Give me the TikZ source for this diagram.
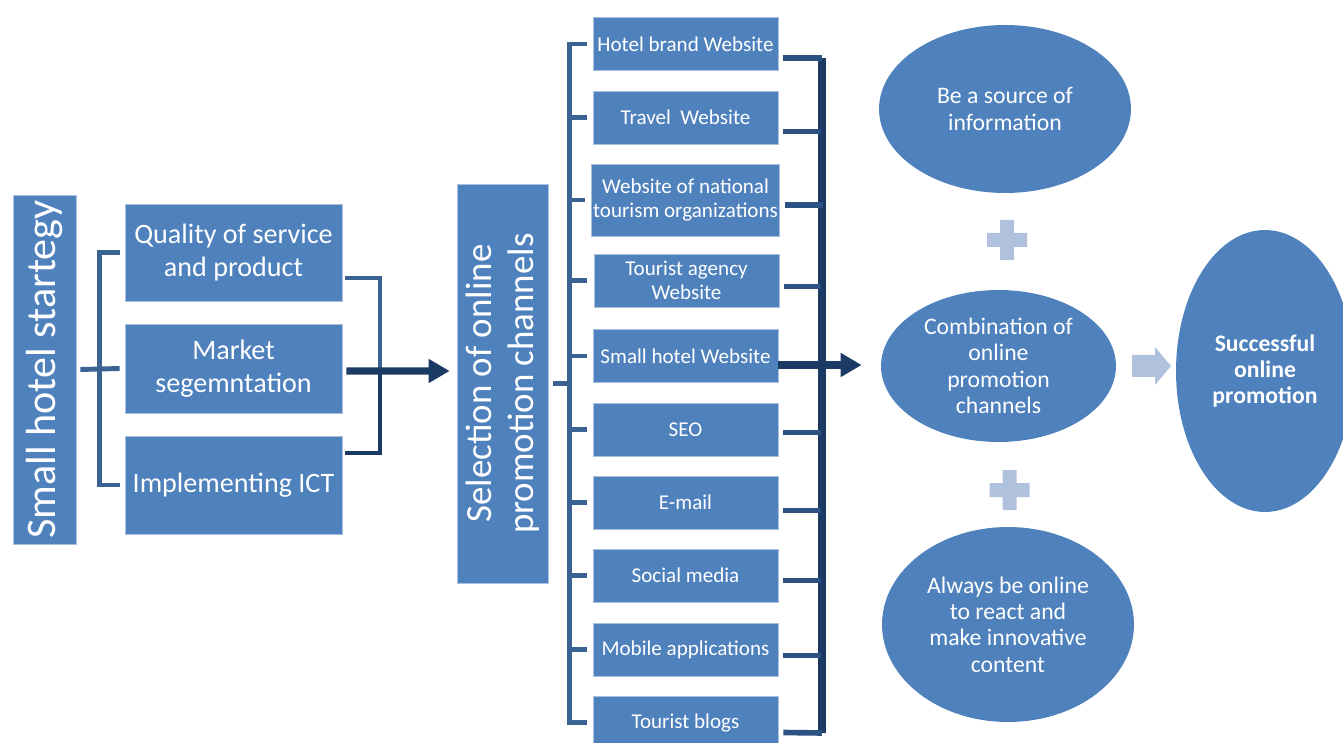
\documentclass[tikz,border=0pt]{standalone}
\usepackage{fontspec}
\setmainfont{Carlito}
\usetikzlibrary{arrows.meta, calc, shapes.geometric}

\definecolor{boxblue}{HTML}{4F81BD}
\definecolor{boxedge}{HTML}{A9C0DE}
\definecolor{linkblue}{HTML}{3A6393}
\definecolor{darklink}{HTML}{2C5283}
\definecolor{navy}{HTML}{1B3A64}
\definecolor{softblue}{HTML}{B0C1DD}

\begin{document}
\begin{tikzpicture}[x=0.02cm, y=-0.02cm,
    box/.style={rectangle, fill=boxblue, draw=boxedge, line width=0.4pt, text=white, align=center, inner sep=1pt},
    chan/.style={box, minimum width=3.7cm, minimum height=1.06cm, font=\fontsize{12}{13.5}\selectfont},
    factor/.style={box, minimum width=4.34cm, font=\fontsize{16}{18.5}\selectfont},
    goal/.style={ellipse, fill=boxblue, text=white, align=center, inner sep=0pt, font=\fontsize{13.5}{15}\selectfont},
    bracket/.style={draw=linkblue, line width=2.8pt},
    tick/.style={draw=darklink, line width=3.2pt},
    rail/.style={draw=navy, line width=4pt},
    heavy/.style={draw=navy, line width=4pt, -{Triangle[length=12pt, width=13pt]}}]
    \useasboundingbox (0,0) rectangle (1343,743);

    % strategy and its three pillars
    \node[box, rotate=90, minimum width=6.98cm, minimum height=1.26cm, font=\fontsize{24}{26}\selectfont] (strategy) at (44.5,369.5) {Small hotel startegy};
    \node[factor, minimum height=1.94cm] (quality) at (233.5,252.5) {Quality of service\\and product};
    \node[factor, minimum height=1.78cm] (market) at (233.5,368.5) {Market\\segemntation};
    \node[factor, minimum height=1.96cm] (ict) at (233.5,485) {Implementing ICT};
    \node[box, rotate=90, minimum width=7.98cm, minimum height=1.82cm, font=\fontsize{21}{24}\selectfont] (selection) at (502.5,383.5) {Selection of online\\promotion channels};

    % channels
    \node[chan] (brand) at (685.5,44) {Hotel brand Website};
    \node[chan] (travel) at (685.5,117.5) {Travel\ \ Website};
    \node[chan, minimum height=1.44cm] (national) at (685.5,200) {Website of national\\tourism organizations};
    \node[chan] (agency) at (686.5,280.5) {Tourist agency\\Website};
    \node[chan] (smallhotel) at (685.5,356) {Small hotel Website};
    \node[chan] (seo) at (685.5,429.5) {SEO};
    \node[chan] (email) at (685.5,502.5) {E-mail};
    \node[chan] (social) at (685.5,575.5) {Social media};
    \node[chan] (mobile) at (685.5,649.5) {Mobile applications};
    \node[chan] (blogs) at (685.5,722.5) {Tourist blogs};

    % outcomes
    \node[goal, minimum width=5.04cm, minimum height=3.36cm] (source) at (1005,109) {Be a source of\\information};
    \node[goal, minimum width=4.7cm, minimum height=3.04cm] (combination) at (998.5,366) {Combination of\\online\\promotion\\channels};
    \node[goal, minimum width=5.04cm, minimum height=3.9cm] (always) at (1008,624.5) {Always be online\\to react and\\make innovative\\content};
    \node[goal, minimum width=3.56cm, minimum height=5.64cm, font=\bfseries\fontsize{13.5}{15}\selectfont] (success) at (1265,371) {Successful\\online\\promotion};

    % plus signs between the outcomes, block arrow to the result
    \fill[softblue] (987,233) rectangle (1027,247) (1000,220) rectangle (1014,260);
    \fill[softblue] (989.5,483) rectangle (1029.5,497) (1002.5,470) rectangle (1016.5,510);
    \fill[softblue] (1132,355) -- (1155,355) -- (1155,347) -- (1171,366) -- (1155,385) -- (1155,377) -- (1132,377) -- cycle;

    % bracket from the strategy to the pillars
    \coordinate (lfork) at (100,369);
    \draw[bracket] ($(strategy.south)+(4,0)$) -- (lfork);
    \draw[bracket] ($(quality.west)+(-5,0)$) -- ++(-20,0) |- ($(ict.west)+(-5,0)$);
    \draw[bracket] ($(market.west)+(-5,0)$) -- (lfork);

    % pillars into the selection
    \coordinate (rfork) at (380,371);
    \draw[bracket] ($(quality.east)+(3,25.5)$) -| (rfork);
    \draw[bracket, draw=navy] ($(ict.east)+(3,-32)$) -| (rfork);
    \draw[heavy] ($(market.east)+(4,2.5)$) -- ($(selection.north)+(-7,-12.5)$);

    % selection fans out to the channels
    \coordinate (cfork) at (570,383.5);
    \draw[bracket] ($(selection.south)+(5,0)$) -- (cfork);
    \draw[bracket] ($(brand.west)+(-6,0)$) -- ++(-17,0) |- ($(blogs.west)+(-6,0)$);
    \draw[bracket] ($(travel.west)+(-6,0)$) -- ++(-17,0);
    \draw[bracket] ($(national.west)+(-6,0)$) -- ++(-17,0);
    \draw[bracket] ($(agency.west)+(-7,0)$) -- ++(-17,0);
    \draw[bracket] ($(smallhotel.west)+(-6,0)$) -- ++(-17,0);
    \draw[bracket] ($(seo.west)+(-6,0)$) -- ++(-17,0);
    \draw[bracket] ($(email.west)+(-6,0)$) -- ++(-17,0);
    \draw[bracket] ($(social.west)+(-6,0)$) -- ++(-17,0);
    \draw[bracket] ($(mobile.west)+(-6,0)$) -- ++(-17,0);

    % channels gathered into the combination
    \coordinate (ctop) at (822,58);
    \coordinate (cbottom) at (822,733);
    \coordinate (hotelout) at ($(smallhotel.east)+(0,9)$);
    \draw[rail] (ctop) -- (cbottom);
    \draw[tick] ($(brand.east)+(5,14)$) -- (ctop);
    \draw[tick] ($(travel.east)+(5,14)$) -- ++(38,0);
    \draw[tick] ($(national.east)+(5,5)$) -- ++(38,0);
    \draw[tick] ($(agency.east)+(5,6)$) -- ++(37,0);
    \draw[tick] ($(seo.east)+(5,3)$) -- ++(38,0);
    \draw[tick] ($(email.east)+(5,8)$) -- ++(38,0);
    \draw[tick] ($(social.east)+(5,5)$) -- ++(38,0);
    \draw[tick] ($(mobile.east)+(5,6)$) -- ++(38,0);
    \draw[tick] ($(blogs.east)+(5,10)$) -- (cbottom);
    \draw[heavy, shorten >=0.38cm] (hotelout) -- (hotelout -| combination.west);
\end{tikzpicture}
\end{document}
